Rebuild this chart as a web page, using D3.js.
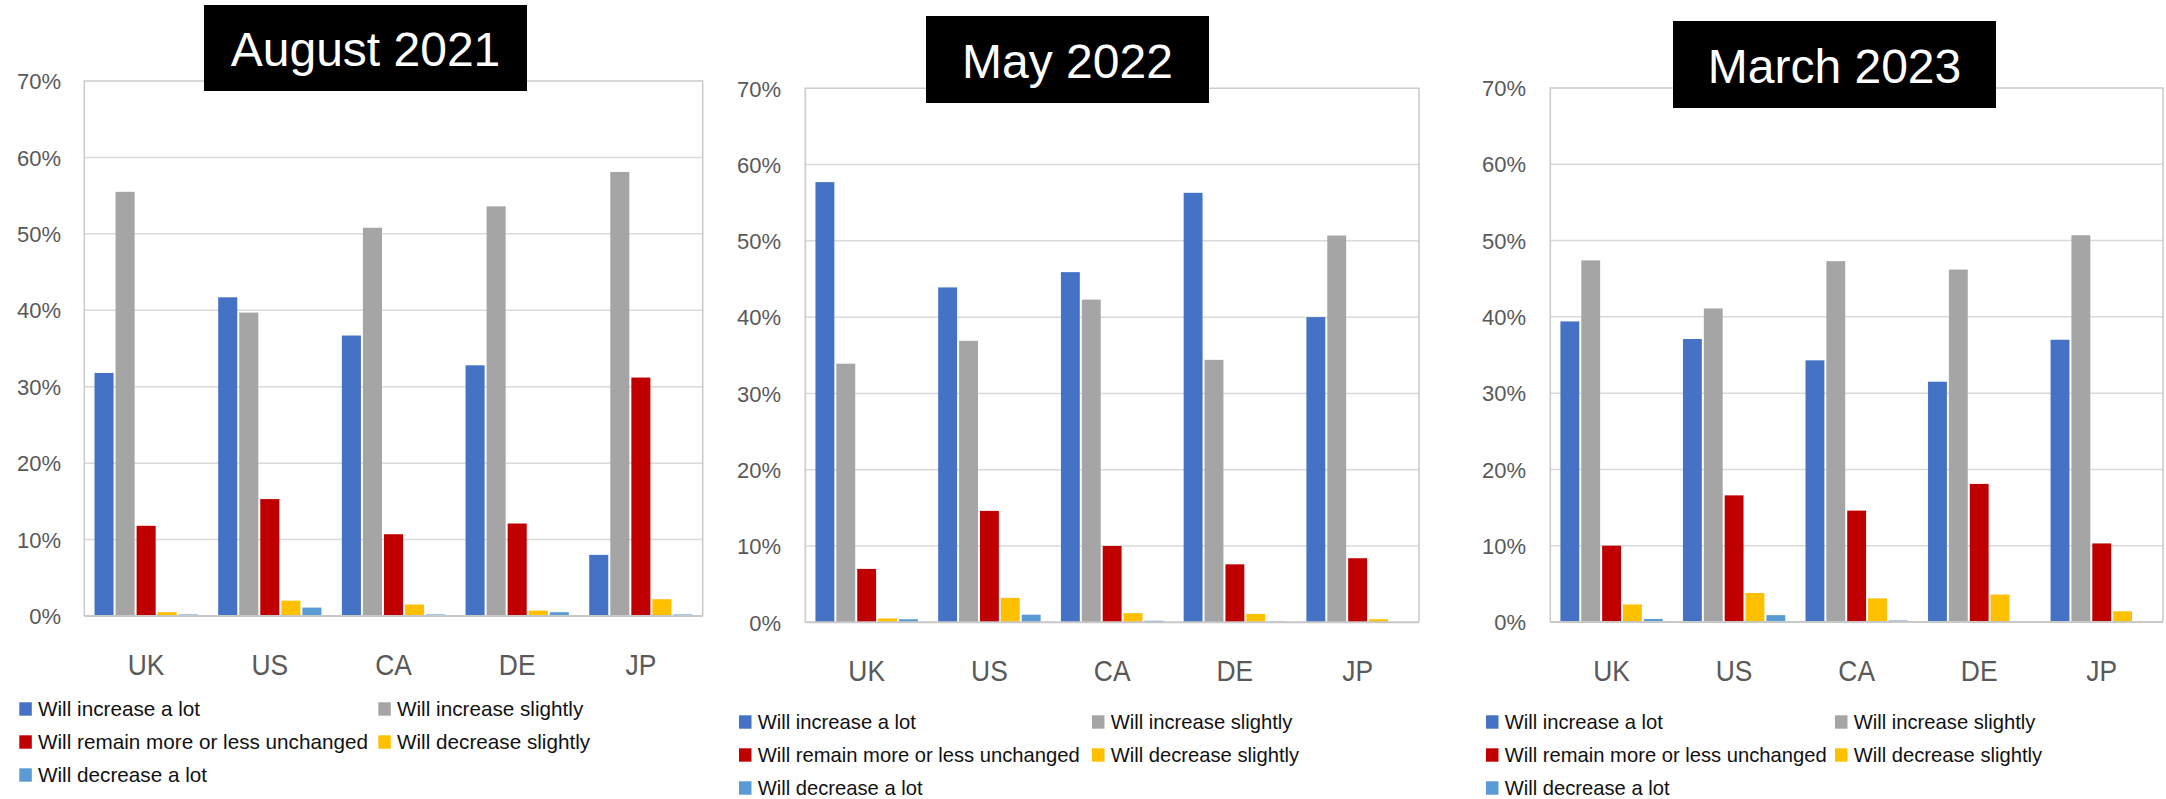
<!DOCTYPE html>
<html>
<head>
<meta charset="utf-8">
<script src="https://cdn.jsdelivr.net/npm/d3@7"></script>
<style>
  html, body { margin: 0; padding: 0; background: #fff; }
  svg { display: block; }
</style>
</head>
<body>
<svg id="chart" width="2166" height="799"></svg>
<script>
// ---------------- DATA ----------------
const categories = ["UK", "US", "CA", "DE", "JP"];
const seriesNames = [
  "Will increase a lot",
  "Will increase slightly",
  "Will remain more or less unchanged",
  "Will decrease slightly",
  "Will decrease a lot"
];
const seriesColors = ["#4472C4", "#A5A5A5", "#C00000", "#FFC000", "#5B9BD5"];
const panelTitles = ["August 2021", "May 2022", "March 2023"];
const yTicks = [0, 0.1, 0.2, 0.3, 0.4, 0.5, 0.6, 0.7];

// values in %, one row per series, one column per category
const aug2021 = [
  [31.8, 41.7, 36.7, 32.8, 8.0],
  [55.5, 39.7, 50.8, 53.6, 58.1],
  [11.8, 15.3, 10.7, 12.1, 31.2],
  [0.5, 2.0, 1.5, 0.7, 2.2],
  [0.2, 1.1, 0.2, 0.5, 0.2]
];
const may2022 = [
  [57.7, 43.9, 45.9, 56.3, 40.0],
  [33.9, 36.9, 42.3, 34.4, 50.7],
  [7.0, 14.6, 10.0, 7.6, 8.4],
  [0.5, 3.2, 1.2, 1.1, 0.4],
  [0.4, 1.0, 0.2, 0.1, 0.05]
];
const mar2023 = [
  [39.4, 37.1, 34.3, 31.5, 37.0],
  [47.4, 41.1, 47.3, 46.2, 50.7],
  [10.0, 16.6, 14.6, 18.1, 10.3],
  [2.3, 3.8, 3.1, 3.6, 1.4],
  [0.4, 0.9, 0.2, 0.1, 0.05]
];

// ---------------- LAYOUT ----------------
const panels = [
  { title: panelTitles[0], data: aug2021,
    frame: { left: 84.3, right: 702.7, top: 81, bottom: 616 },
    tickRight: 61,
    titleBox: { x: 204, y: 5, w: 323, h: 86 },
    legend: { x1: 19.3, x2: 378.3, rows: [709, 742, 775], font: 20.7 } },
  { title: panelTitles[1], data: may2022,
    frame: { left: 805.3, right: 1419, top: 88.3, bottom: 622.3 },
    tickRight: 781,
    titleBox: { x: 926, y: 16, w: 283, h: 87 },
    legend: { x1: 739, x2: 1092, rows: [722, 755, 788], font: 20.2 } },
  { title: panelTitles[2], data: mar2023,
    frame: { left: 1550.3, right: 2163, top: 88, bottom: 622 },
    tickRight: 1526,
    titleBox: { x: 1673, y: 21, w: 323, h: 87 },
    legend: { x1: 1486, x2: 1835, rows: [722, 755, 788], font: 20.2 } }
];

const FONT = "'Liberation Sans', Arial, sans-serif";
const svg = d3.select("#chart");

panels.forEach(p => {
  const g = svg.append("g");
  const f = p.frame;

  const y = d3.scaleLinear().domain([0, 0.7]).range([f.bottom, f.top]);
  const x0 = d3.scaleBand().domain(categories).range([f.left, f.right]).padding(0);
  const x1 = d3.scaleBand().domain(d3.range(seriesNames.length))
    .range([0, x0.bandwidth()]).paddingInner(0).paddingOuter(0.4375);

  // gridlines
  g.append("g").selectAll("line").data(yTicks.filter(t => t > 0 && t < 0.7)).join("line")
    .attr("x1", f.left).attr("x2", f.right)
    .attr("y1", d => y(d)).attr("y2", d => y(d))
    .attr("stroke", "#D9D9D9").attr("stroke-width", 1.5);

  // frame (left, top, right)
  g.append("path")
    .attr("d", `M${f.left},${f.bottom}V${y(0.7)}H${f.right}V${f.bottom}`)
    .attr("fill", "none").attr("stroke", "#CCCCCC").attr("stroke-width", 1.6);

  // y axis labels
  const yAxis = d3.axisLeft(y).tickValues(yTicks).tickFormat(d3.format(".0%")).tickSize(0).tickPadding(0);
  const ya = g.append("g").attr("transform", `translate(${p.tickRight},0)`).call(yAxis);
  ya.select(".domain").remove();
  ya.selectAll("text").attr("font-family", FONT).attr("font-size", 22)
    .attr("fill", "#595959").attr("dy", "0.35em");

  // bars (1px white gap on each side, like Excel's white bar outline)
  const rows = [];
  p.data.forEach((vals, si) => vals.forEach((v, ci) => rows.push({ si, cat: categories[ci], v: v / 100 })));
  g.append("g").selectAll("rect").data(rows).join("rect")
    .attr("x", d => x0(d.cat) + x1(d.si) + 1)
    .attr("width", x1.bandwidth() - 2)
    .attr("y", d => y(d.v))
    .attr("height", d => y(0) - y(d.v))
    .attr("fill", d => seriesColors[d.si]);

  // bottom axis line
  g.append("line").attr("x1", f.left).attr("x2", f.right)
    .attr("y1", f.bottom).attr("y2", f.bottom)
    .attr("stroke", "#C8C8C8").attr("stroke-width", 2);

  // category labels
  const xAxis = d3.axisBottom(x0).tickSize(0).tickPadding(0);
  const xa = g.append("g").attr("transform", `translate(0,${f.bottom + 59})`).call(xAxis);
  xa.select(".domain").remove();
  xa.selectAll("text").attr("font-family", FONT).attr("font-size", 30)
    .attr("fill", "#595959").attr("dy", 0).attr("y", 0)
    .attr("transform", "scale(0.88,1)");

  // title box
  const tb = p.titleBox;
  g.append("rect").attr("x", tb.x).attr("y", tb.y).attr("width", tb.w).attr("height", tb.h)
    .attr("fill", "#000");
  g.append("text").attr("x", tb.x + tb.w / 2).attr("y", tb.y + tb.h / 2 + 18)
    .attr("text-anchor", "middle").attr("font-family", FONT).attr("font-size", 48)
    .attr("fill", "#fff").text(p.title);

  // legend
  const L = p.legend;
  const legendPos = [
    { x: L.x1, y: L.rows[0] }, { x: L.x2, y: L.rows[0] },
    { x: L.x1, y: L.rows[1] }, { x: L.x2, y: L.rows[1] },
    { x: L.x1, y: L.rows[2] }
  ];
  const lg = g.append("g").selectAll("g").data(seriesNames).join("g")
    .attr("transform", (d, i) => `translate(${legendPos[i].x},${legendPos[i].y})`);
  lg.append("rect").attr("x", 0).attr("y", -6.7).attr("width", 12.5).attr("height", 13.4)
    .attr("fill", (d, i) => seriesColors[i]);
  lg.append("text").attr("x", 18.7).attr("y", 0).attr("dy", "0.36em")
    .attr("font-family", FONT).attr("font-size", L.font).attr("fill", "#111")
    .text(d => d);
});
</script>
</body>
</html>
